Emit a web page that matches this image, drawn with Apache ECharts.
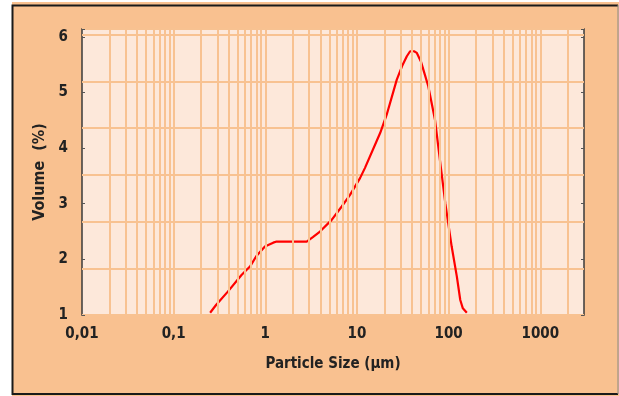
<!DOCTYPE html>
<html>
<head>
<meta charset="utf-8">
<script src="https://cdn.jsdelivr.net/npm/echarts@6/dist/echarts.min.js"></script>
<style>
  html, body { margin: 0; padding: 0; background: #ffffff; }
  #chart { width: 619px; height: 396px; }
</style>
</head>
<body>
<div id="chart"></div>
<script>
// Distribution granulométrique - courbe

const particleSize = [0.25, 0.29, 0.39, 0.55, 0.68, 0.80, 0.99, 1.22, 1.33, 2.0, 2.83, 3.3, 3.95, 5.3, 6.82, 8.4, 10.8, 12.2, 17.9, 21.1, 27.2, 31, 35, 38, 42, 45, 50, 53, 60, 71, 82, 92, 108, 123, 134, 143, 158];
const volume = [1.04, 1.18, 1.42, 1.72, 1.87, 2.06, 2.23, 2.30, 2.32, 2.32, 2.32, 2.40, 2.50, 2.71, 2.95, 3.16, 3.46, 3.64, 4.27, 4.60, 5.23, 5.47, 5.65, 5.74, 5.74, 5.71, 5.55, 5.41, 5.11, 4.51, 3.67, 3.01, 2.23, 1.69, 1.27, 1.12, 1.04];

const xTickLabels = ['0,01', '0,1', '1', '10', '100', '1000'];
const yTickLabels = ['1', '2', '3', '4', '5', '6'];

// Lignes de grille verticales (2..9 x 10^n)
const gridDecades = [0.01, 0.1, 1, 10, 100, 1000];
const gridMultipliers = [1, 2, 3, 4, 5, 6, 7, 8, 9];

const FONT = "'Liberation Sans Narrow', 'DejaVu Sans Condensed', sans-serif";
const PEACH = '#f9c190';
const GRID_COLOR = '#f8c291';

const verticalLines = [];
gridDecades.forEach(d => {
    gridMultipliers.forEach(m => {
        const v = d * m;
        if (v > 0.011 && v < 3000) verticalLines.push({ xAxis: v });
    });
});

const seriesData = particleSize.map((x, i) => [x, volume[i]]);

const chart = echarts.init(document.getElementById('chart'));

const option = {
    backgroundColor: '#ffffff',
    animation: false,
    graphic: [
        {
            type: 'rect', z: -10, silent: true,
            shape: { x: 12, y: 2, width: 607, height: 394 },
            style: { fill: PEACH }
        },
        {
            type: 'polyline', z: -9, silent: true,
            shape: { points: [[618, 5.5], [12.5, 5.5], [12.5, 394], [618, 394]] },
            style: { stroke: '#1a1a1a', lineWidth: 2, fill: null }
        },
        {
            type: 'line', z: -9, silent: true,
            shape: { x1: 618, y1: 5, x2: 618, y2: 394 },
            style: { stroke: '#888', lineWidth: 1 }
        }
    ],
    grid: {
        left: 82, right: 35, top: 29, bottom: 81,
        show: true,
        backgroundColor: '#fde8da',
        borderColor: '#3a3a3a',
        borderWidth: 1.5
    },
    xAxis: {
        type: 'log',
        min: 0.01,
        max: 3000,
        logBase: 10,
        name: 'Particle Size (µm)',
        nameLocation: 'middle',
        nameGap: 42,
        nameTextStyle: { fontFamily: FONT, fontSize: 15, fontWeight: 'bold', color: '#222' },
        axisLine: { show: false },
        axisTick: { show: false },
        splitLine: { show: false },
        axisLabel: {
            margin: 12,
            fontFamily: FONT, fontSize: 15, fontWeight: 'bold', color: '#222',
            formatter: function (value) {
                const e = Math.log10(value);
                const idx = Math.round(e) + 2;
                if (Math.abs(e - Math.round(e)) > 1e-6 || idx < 0 || idx >= xTickLabels.length) return '';
                return xTickLabels[idx];
            }
        }
    },
    yAxis: [
        {
            type: 'value',
            min: 1,
            max: 6.14,
            interval: 1,
            name: 'Volume  (%)',
            nameLocation: 'middle',
            nameGap: 32,
            nameTextStyle: { fontFamily: FONT, fontSize: 16, fontWeight: 'bold', color: '#222' },
            axisLine: { show: false },
            axisTick: { show: true, inside: true, length: 3, lineStyle: { color: '#555' } },
            splitLine: { show: false },
            axisLabel: {
                margin: 14,
                fontFamily: FONT, fontSize: 15, fontWeight: 'bold', color: '#222',
                formatter: function (value) {
                    const i = Math.round(value) - 1;
                    if (Math.abs(value - Math.round(value)) > 1e-6 || i < 0 || i >= yTickLabels.length) return '';
                    return yTickLabels[i];
                }
            }
        },
        {
            // axe caché : lignes de grille horizontales décalées comme dans l'original
            type: 'value',
            min: 0,
            max: 6.12,
            interval: 1,
            position: 'left',
            axisLine: { show: false },
            axisTick: { show: false },
            axisLabel: { show: false },
            splitLine: { show: true, lineStyle: { color: GRID_COLOR, width: 2 } }
        },
        {
            type: 'value',
            min: 1,
            max: 6.14,
            interval: 1,
            position: 'right',
            axisLine: { show: false },
            axisTick: { show: true, inside: true, length: 3, lineStyle: { color: '#555' } },
            axisLabel: { show: false },
            splitLine: { show: false }
        }
    ],
    series: [
        {
            name: 'grille',
            type: 'line',
            data: [],
            silent: true,
            z: 1,
            markLine: {
                silent: true,
                symbol: 'none',
                animation: false,
                label: { show: false },
                lineStyle: { color: GRID_COLOR, width: 2, type: 'solid' },
                data: verticalLines
            }
        },
        {
            name: 'Volume',
            type: 'line',
            data: seriesData,
            yAxisIndex: 0,
            showSymbol: false,
            symbol: 'none',
            z: 3,
            lineStyle: { color: '#ff0000', width: 2.2 }
        }
    ]
};

chart.setOption(option);
</script>
</body>
</html>
